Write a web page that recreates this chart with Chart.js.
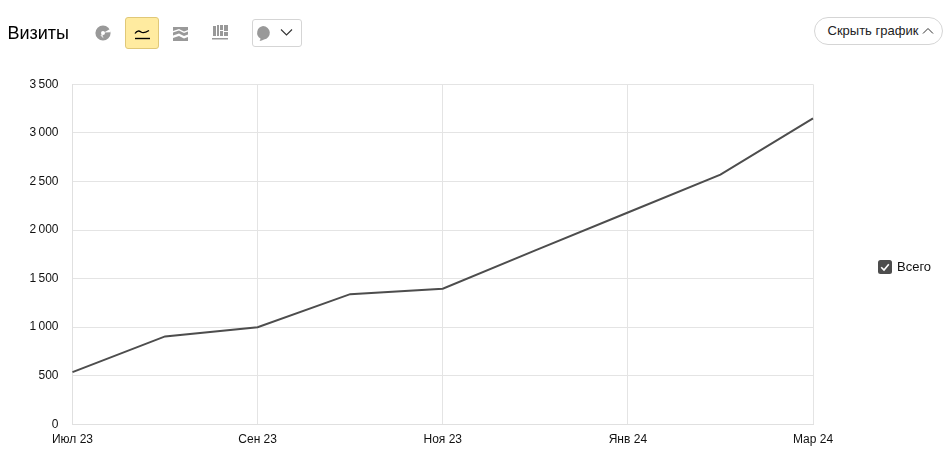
<!DOCTYPE html>
<html lang="ru">
<head>
<meta charset="utf-8">
<title>Визиты</title>
<script src="https://cdn.jsdelivr.net/npm/chart.js@4"></script>
<style>
html,body{margin:0;padding:0;background:#fff;width:951px;height:466px;overflow:hidden;font-family:"Liberation Sans",Arial,sans-serif;color:#000}
#wrap{position:relative;width:951px;height:466px}
canvas{position:absolute;left:0;top:0}
.abs{position:absolute}
#title{left:7.5px;top:22px;font-size:18px;line-height:22px}
#active{left:125px;top:17px;width:32px;height:30px;background:#ffeba0;border:1px solid #e0c878;border-radius:3px}
#cbtn{left:252px;top:19px;width:48px;height:26px;border:1px solid #d5d5d5;border-radius:3px;background:#fff}
#hide{left:814px;top:17px;border:1px solid #d5d5d5;border-radius:14px;background:#fff;font-size:13px;line-height:26px;padding-left:12.5px;box-sizing:border-box;width:129px;height:28px;color:#222}
#legend{left:878px;top:259px;font-size:13px;line-height:15px;display:flex;align-items:center;color:#111}
#legend span{margin-left:5px}
</style>
</head>
<body>
<div id="wrap">
  <canvas id="chart" width="951" height="466"></canvas>
  <div class="abs" id="title">Визиты</div>
  <svg class="abs" style="left:95px;top:25px" width="16" height="16" viewBox="0 0 16 16"><circle cx="8" cy="8" r="4.800" fill="none" stroke="#999" stroke-width="5.600"/><path d="M9 7.500 15.500 3.800 15.500 7.200z" fill="#fff"/><path d="M5.500 10.500 7.500 8.500 8.500 13.500z" fill="#fff" opacity=".7"/></svg>
  <div class="abs" id="active"></div>
  <svg class="abs" style="left:134px;top:27px" width="16" height="13" viewBox="0 0 16 13"><path d="M1 6.500C3 3.500 5 3.500 7 5s4 1 8-1.500" fill="none" stroke="#000" stroke-width="1.300"/><path d="M1 11.500h15" stroke="#000" stroke-width="1.400"/></svg>
  <svg class="abs" style="left:173px;top:26px" width="16" height="15" viewBox="0 0 16 15"><path d="M0 1h15v3l-4 1.500L6 3 0 5z M0 6.500 6 4.500l5 2.500 4-1.500v3l-4 1.500-5-2.500-6 2z M0 12l6-2 5 2.500 4-1.500V15H0z" fill="#999"/></svg>
  <svg class="abs" style="left:212px;top:24px" width="17" height="17" viewBox="0 0 17 17"><path d="M1 2h3v10H1z M5 1h2v11H5z M8 1h3v5H8z M8 7h3v5H8z M12 1h4v6h-4z M12 8h4v4h-4z M0 14h16v1.500H0z" fill="#999"/></svg>
  <div class="abs" id="cbtn"></div>
  <svg class="abs" style="left:255px;top:25px" width="17" height="17" viewBox="0 0 17 17"><path d="M8 1a7 6.800 0 0 1 1 13.500c-1.500.8-3 1.400-4.500 1.500.6-.8 1-1.600 1-2.500A7 6.800 0 0 1 8 1z" fill="#999"/></svg>
  <svg class="abs" style="left:280px;top:28px" width="13" height="9" viewBox="0 0 13 9"><path d="M1 1.500 6.500 7 12 1.500" fill="none" stroke="#333" stroke-width="1.100"/></svg>
  <div class="abs" id="hide">Скрыть график</div>
  <svg class="abs" style="left:922px;top:27px" width="12" height="8" viewBox="0 0 12 8"><path d="M1 6.500 6 1.500 11 6.500" fill="none" stroke="#333" stroke-width="1"/></svg>
  <div class="abs" id="legend">
    <svg width="14" height="14" viewBox="0 0 14 14"><rect width="14" height="14" rx="2.500" fill="#4d4d4d"/><path d="M3.200 7.200 6 10 10.800 4.200" fill="none" stroke="#fff" stroke-width="1.600"/></svg>
    <span>Всего</span>
  </div>
</div>
<script>
const categories = ["Июл 23","Авг 23","Сен 23","Окт 23","Ноя 23","Дек 23","Янв 24","Фев 24","Мар 24"];
const visits = [537, 905, 1000, 1340, 1395, 1790, 2180, 2570, 3150];
const yMax = 3500;
const yStep = 500;
const fmt = v => String(v).replace(/\B(?=(\d{3})+$)/g, "\u2009");

new Chart(document.getElementById("chart"), {
  type: "line",
  data: {
    labels: categories,
    datasets: [{
      label: "Всего",
      data: visits,
      borderColor: "#4d4d4d",
      borderWidth: 2,
      pointRadius: 0,
      tension: 0,
      fill: false,
      clip: false
    }]
  },
  options: {
    responsive: false,
    animation: false,
    layout: { padding: { left: 0, right: 138, top: 84.3, bottom: 0 } },
    plugins: { legend: { display: false }, tooltip: { enabled: false } },
    scales: {
      x: {
        offset: false,
        border: { color: "#e0e0e0" },
        grid: {
          drawTicks: false,
          color: ctx => (ctx.index % 2 === 0 ? "#e4e4e4" : "rgba(0,0,0,0)")
        },
        ticks: {
          autoSkip: false,
          maxRotation: 0,
          padding: 8,
          color: "#111",
          font: { family: "'Liberation Sans', Arial, sans-serif", size: 12 },
          callback(value, index) { return index % 2 === 0 ? categories[index] : ""; }
        },
        afterFit(s) { s.height = 41.7; }
      },
      y: {
        min: 0,
        max: yMax,
        border: { color: "#e0e0e0" },
        grid: { drawTicks: false, color: "#e4e4e4" },
        ticks: {
          stepSize: yStep,
          padding: 14,
          color: "#111",
          font: { family: "'Liberation Sans', Arial, sans-serif", size: 12 },
          callback: v => fmt(v)
        },
        afterFit(s) { s.width = 72.5; }
      }
    }
  }
});
</script>
</body>
</html>
